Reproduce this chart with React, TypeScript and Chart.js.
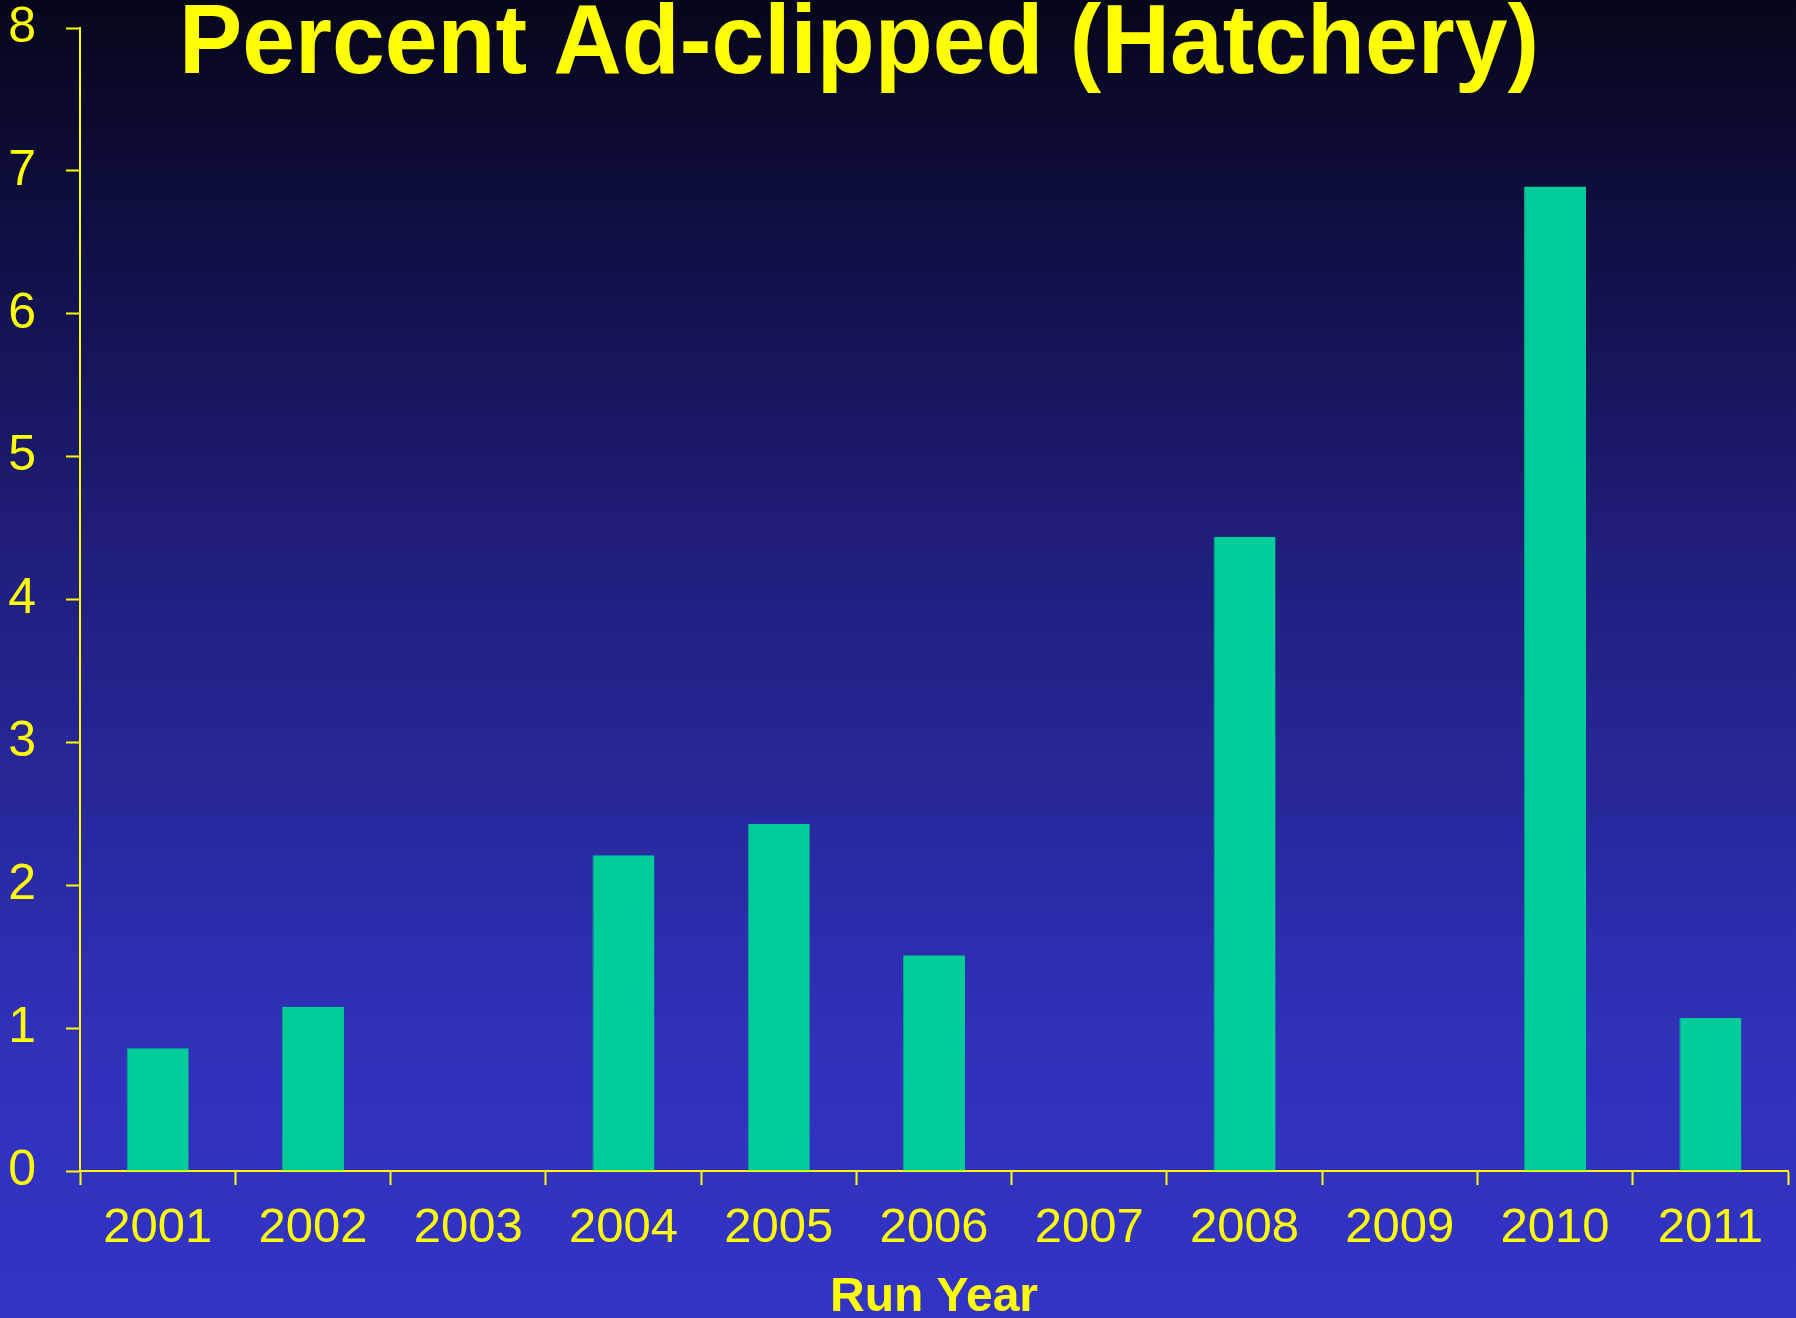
import React, { useEffect, useRef } from "react";
import { Chart, registerables } from "chart.js";

Chart.register(...registerables);

const categories = ["2001", "2002", "2003", "2004", "2005", "2006", "2007", "2008", "2009", "2010", "2011"];
const percentClipped = [0.86, 1.15, 0, 2.21, 2.43, 1.51, 0, 4.44, 0, 6.89, 1.07];
const yTicks = [0, 1, 2, 3, 4, 5, 6, 7, 8];

const titleText = "Percent Ad-clipped (Hatchery)";
const xTitle = "Run Year";

const W = 1796;
const H = 1318;
const YELLOW = "#FFFF00";
const FONT = "'Liberation Sans', Arial, Helvetica, sans-serif";

const bgPlugin = {
  id: "bgGradient",
  beforeDraw(chart: any) {
    const ctx = chart.ctx;
    const g = ctx.createLinearGradient(0, 0, 0, chart.height);
    g.addColorStop(0, "#06061a");
    g.addColorStop(0.15, "#0e0e3e");
    g.addColorStop(0.42, "#1f1f7c");
    g.addColorStop(0.8, "#3131bc");
    g.addColorStop(1, "#3333c6");
    ctx.save();
    ctx.fillStyle = g;
    ctx.fillRect(0, 0, chart.width, chart.height);
    ctx.restore();
  },
};

const titlePlugin = {
  id: "bigTitle",
  afterDraw(chart: any) {
    const ctx = chart.ctx;
    ctx.save();
    ctx.font = `bold 98px ${FONT}`;
    ctx.fillStyle = YELLOW;
    ctx.textBaseline = "alphabetic";
    ctx.textAlign = "left";
    const m = ctx.measureText(titleText);
    const targetW = 1360;
    const sx = targetW / m.width;
    ctx.translate(179, 73);
    ctx.scale(sx, 1);
    ctx.fillText(titleText, 0, 0);
    ctx.restore();
  },
};

export default function App() {
  const ref = useRef<HTMLCanvasElement | null>(null);

  useEffect(() => {
    document.body.style.margin = "0";
    document.body.style.background = "#3333c6";
    if (!ref.current) return;
    const chart = new Chart(ref.current, {
      type: "bar",
      data: {
        labels: categories,
        datasets: [
          {
            label: "Percent Ad-clipped",
            data: percentClipped,
            backgroundColor: "#00CC99",
            borderColor: "#0aa58a",
            borderWidth: { left: 1, right: 0, top: 0, bottom: 0 },
            borderSkipped: false,
            categoryPercentage: 1,
            barPercentage: 0.4,
          },
        ],
      },
      options: {
        animation: false,
        responsive: false,
        maintainAspectRatio: false,
        devicePixelRatio: 1,
        layout: { padding: { top: 28, right: 8, left: 0, bottom: 0 } },
        plugins: {
          legend: { display: false },
          tooltip: { enabled: false },
          title: { display: false },
        },
        scales: {
          x: {
            offset: true,
            grid: {
              offset: true,
              drawOnChartArea: false,
              drawTicks: true,
              tickLength: 14,
              tickColor: YELLOW,
              tickWidth: 2,
              color: YELLOW,
            },
            border: { color: YELLOW, width: 2 },
            ticks: {
              color: YELLOW,
              font: { family: FONT, size: 49 },
              padding: 14,
              maxRotation: 0,
              autoSkip: false,
            },
            title: {
              display: true,
              text: xTitle,
              color: YELLOW,
              font: { family: FONT, size: 48, weight: "bold" },
              padding: { top: 0, bottom: -9 },
            },
            afterFit(scale: any) {
              scale.height = H - 1171;
              scale.paddingLeft = 0;
              scale.paddingRight = 0;
            },
          },
          y: {
            min: 0,
            max: 8,
            afterBuildTicks(scale: any) {
              scale.ticks = yTicks.map((v) => ({ value: v }));
            },
            grid: {
              drawOnChartArea: false,
              drawTicks: true,
              tickLength: 14,
              tickColor: YELLOW,
              tickWidth: 2,
              color: YELLOW,
            },
            border: { color: YELLOW, width: 2 },
            ticks: {
              color: YELLOW,
              font: { family: FONT, size: 50 },
              padding: 30,
              stepSize: 1,
            },
            afterFit(scale: any) {
              scale.width = 80;
              scale.paddingTop = 0;
              scale.paddingBottom = 0;
            },
          },
        },
      },
      plugins: [bgPlugin, titlePlugin],
    });
    return () => chart.destroy();
  }, []);

  return (
    <div style={{ position: "fixed", left: 0, top: 0, width: W, height: H }}>
      <canvas ref={ref} width={W} height={H} style={{ width: W, height: H, display: "block" }} />
    </div>
  );
}
